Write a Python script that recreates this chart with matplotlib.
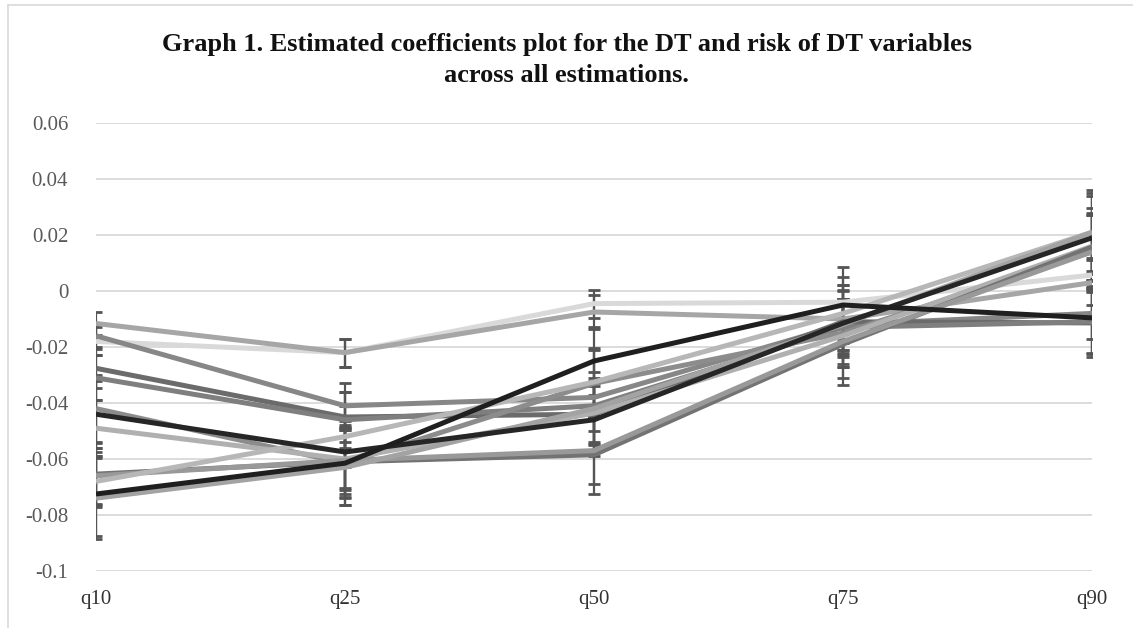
import matplotlib.pyplot as plt
from matplotlib.lines import Line2D

quantiles = ['q10', 'q25', 'q50', 'q75', 'q90']

# estimated coefficients, one list per estimation
s_a = [-0.018, -0.022, -0.0045, -0.004, 0.0057]
s_b = [-0.0116, -0.022, -0.0075, -0.010, 0.003]
s_c = [-0.016, -0.041, -0.038, -0.012, -0.008]
s_d = [-0.0276, -0.045, -0.044, -0.011, -0.0114]
s_e = [-0.031, -0.046, -0.041, -0.013, -0.011]
s_f = [-0.042, -0.0615, -0.033, -0.015, 0.014]
s_h = [-0.049, -0.060, -0.0436, -0.016, 0.016]
s_i = [-0.0654, -0.061, -0.0585, -0.019, 0.0157]
s_j = [-0.066, -0.0605, -0.057, -0.018, 0.014]
s_k = [-0.068, -0.052, -0.0325, -0.008, 0.021]
s_m = [-0.074, -0.063, -0.042, -0.012, 0.021]
s_g = [-0.044, -0.0575, -0.046, -0.0115, 0.019]
s_l = [-0.0725, -0.0615, -0.025, -0.005, -0.0096]

# half-widths of the error bars
e_a = [0.005, 0.005, 0.005, 0.006, 0.006]
e_b = [0.004, 0.005, 0.006, 0.007, 0.008]
e_c = [0.004, 0.008, 0.007, 0.009, 0.009]
e_d = [0.007, 0.009, 0.010, 0.011, 0.012]
e_e = [0.008, 0.010, 0.009, 0.010, 0.011]
e_f = [0.012, 0.012, 0.012, 0.012, 0.013]
e_h = [0.010, 0.011, 0.011, 0.011, 0.012]
e_i = [0.011, 0.013, 0.014, 0.0145, 0.014]
e_j = [0.010, 0.012, 0.012, 0.013, 0.013]
e_k = [0.009, 0.011, 0.012, 0.013, 0.014]
e_m = [0.0145, 0.0135, 0.013, 0.014, 0.015]
e_g = [0.012, 0.013, 0.013, 0.012, 0.015]
e_l = [0.015, 0.015, 0.012, 0.0135, 0.013]

series = [s_a, s_b, s_c, s_d, s_e, s_f, s_h, s_i, s_j, s_k, s_m, s_g, s_l]
errors = [e_a, e_b, e_c, e_d, e_e, e_f, e_h, e_i, e_j, e_k, e_m, e_g, e_l]
colors = ['#d9d9d9', '#a6a6a6', '#878787', '#6b6b6b', '#7f7f7f', '#8c8c8c',
          '#b0b0b0', '#737373', '#999999', '#b7b7b7', '#a3a3a3', '#262626', '#1f1f1f']

plt.rcParams['font.family'] = ['Liberation Serif', 'DejaVu Serif']

fig = plt.figure(figsize=(11.33, 6.28), dpi=100)
ax = fig.add_axes([96/1133, 57/628, 996/1133, 448/628])

x = range(len(quantiles))
for s, e in zip(series, errors):
    ax.errorbar(x, s, yerr=e, fmt='none', ecolor='#555555', elinewidth=1.6,
                capsize=4, capthick=2, zorder=2)
for i, (s, c) in enumerate(zip(series, colors)):
    ax.plot(x, s, color=c, lw=3.6, solid_capstyle='butt', zorder=3 + i)

ax.set_xlim(0, len(quantiles) - 1)
ax.set_ylim(-0.1, 0.06)
ax.set_yticks([-0.1, -0.08, -0.06, -0.04, -0.02, 0, 0.02, 0.04, 0.06])
ax.set_yticklabels(['-0.1', '-0.08', '-0.06', '-0.04', '-0.02', '0', '0.02', '0.04', '0.06'])
ax.set_xticks(list(x))
ax.set_xticklabels(quantiles)
ax.grid(axis='y', color='#d9d9d9', lw=1.3)
ax.set_axisbelow(True)
for sp in ax.spines.values():
    sp.set_visible(False)
ax.tick_params(axis='y', length=0, pad=20, labelsize=15, labelcolor='#595959')
ax.tick_params(axis='x', length=0, pad=14, labelsize=15, labelcolor='#333333')

fig.text(0.5, 1 - 45/628, 'Graph 1. Estimated coefficients plot for the DT and risk of DT variables',
         ha='center', va='center', fontsize=19, fontweight='bold', color='#111111')
fig.text(0.5, 1 - 76/628, 'across all estimations.',
         ha='center', va='center', fontsize=19, fontweight='bold', color='#111111')

# chart area border
fig.add_artist(Line2D([8/1133, 8/1133], [0, 1 - 5/628], color='#d9d9d9', lw=1.2))
fig.add_artist(Line2D([8/1133, 1], [1 - 5/628, 1 - 5/628], color='#d9d9d9', lw=1.2))

fig.savefig('out.png', dpi=100)
